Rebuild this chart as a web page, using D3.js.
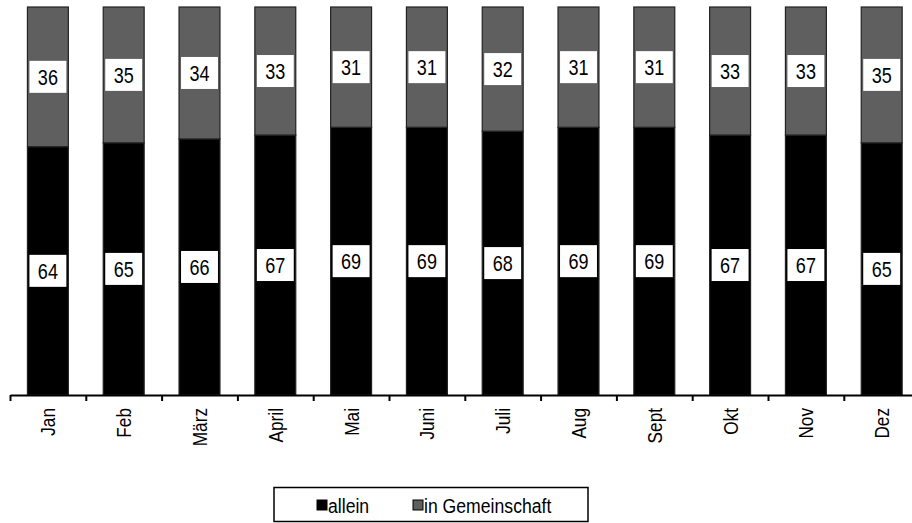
<!DOCTYPE html>
<html>
<head>
<meta charset="utf-8">
<script src="https://cdn.jsdelivr.net/npm/d3@7"></script>
<style>
  html, body { margin: 0; padding: 0; background: #fff; }
  svg { display: block; font-family: "Liberation Sans", Arial, sans-serif; }
</style>
</head>
<body>
<svg id="chart" width="912" height="523"></svg>
<script>
// Monthly shares (percent)
const months = ["Jan", "Feb", "März", "April", "Mai", "Juni", "Juli", "Aug", "Sept", "Okt", "Nov", "Dez"];
const allein = [64, 65, 66, 67, 69, 69, 68, 69, 69, 67, 67, 65];
const gemeinschaft = [36, 35, 34, 33, 31, 31, 32, 31, 31, 33, 33, 35];
const seriesNames = ["allein", "in Gemeinschaft"];
const seriesColors = ["#000000", "#5f5f5f"];

const svg = d3.select("#chart");

const x0 = 10, x1 = 919.6;
const x = d3.scaleBand()
  .domain(months)
  .range([x0, x1])
  .paddingInner(0.46)
  .paddingOuter(0.23);

const y = d3.scaleLinear().domain([0, 100]).range([395, 7]);

const rows = months.map((m, i) => ({ month: m, allein: allein[i], gem: gemeinschaft[i] }));
const stack = d3.stack().keys(["allein", "gem"])(rows);

// Stacked bars
const layers = svg.append("g").selectAll("g")
  .data(stack)
  .join("g")
  .attr("fill", (d, i) => seriesColors[i]);

layers.selectAll("rect")
  .data(d => d)
  .join("rect")
  .attr("x", d => x(d.data.month))
  .attr("y", d => y(d[1]))
  .attr("width", x.bandwidth())
  .attr("height", d => y(d[0]) - y(d[1]))
  .attr("stroke", "#222")
  .attr("stroke-width", 1.2);

// Value labels in white boxes
const boxW = x.bandwidth() - 4, boxH = 32;
stack.forEach(layer => {
  const g = svg.append("g");
  layer.forEach(d => {
    const cx = x(d.data.month) + x.bandwidth() / 2;
    const cy = (y(d[0]) + y(d[1])) / 2;
    g.append("rect")
      .attr("x", cx - boxW / 2)
      .attr("y", cy - boxH / 2)
      .attr("width", boxW)
      .attr("height", boxH)
      .attr("fill", "#fff");
    g.append("text")
      .attr("transform", `translate(${cx},${cy}) scale(0.82,1)`)
      .attr("text-anchor", "middle")
      .attr("dy", "0.36em")
      .attr("font-size", 22)
      .attr("fill", "#000")
      .text(d[1] - d[0]);
  });
});

// X axis with ticks at category boundaries
const xTick = d3.scaleLinear().domain([0, months.length]).range([x0, x1]);
const axis = svg.append("g")
  .attr("transform", "translate(0,395)")
  .call(d3.axisBottom(xTick).ticks(months.length).tickSize(6).tickSizeOuter(0).tickFormat(""));
axis.select(".domain").attr("stroke", "#000").attr("stroke-width", 2.2);
axis.selectAll(".tick line").attr("stroke", "#000").attr("stroke-width", 2);

// Rotated month labels
svg.append("g").selectAll("text")
  .data(months)
  .join("text")
  .attr("transform", d => `translate(${x(d) + x.bandwidth() / 2},408) rotate(-90) scale(0.82,1)`)
  .attr("text-anchor", "end")
  .attr("dy", "0.36em")
  .attr("font-size", 21)
  .attr("fill", "#000")
  .text(d => d);

// Legend
const legend = svg.append("g");
legend.append("rect")
  .attr("x", 274).attr("y", 487.5)
  .attr("width", 314).attr("height", 34)
  .attr("fill", "#fff").attr("stroke", "#000").attr("stroke-width", 1.5);

const legendX = [317, 413];
seriesNames.forEach((name, i) => {
  legend.append("rect")
    .attr("x", legendX[i]).attr("y", 500)
    .attr("width", 10).attr("height", 10)
    .attr("fill", seriesColors[i]).attr("stroke", "#000").attr("stroke-width", 1);
  legend.append("text")
    .attr("transform", `translate(${legendX[i] + 11},513) scale(0.84,1)`)
    .attr("font-size", 21)
    .attr("fill", "#000")
    .text(name);
});
</script>
</body>
</html>
